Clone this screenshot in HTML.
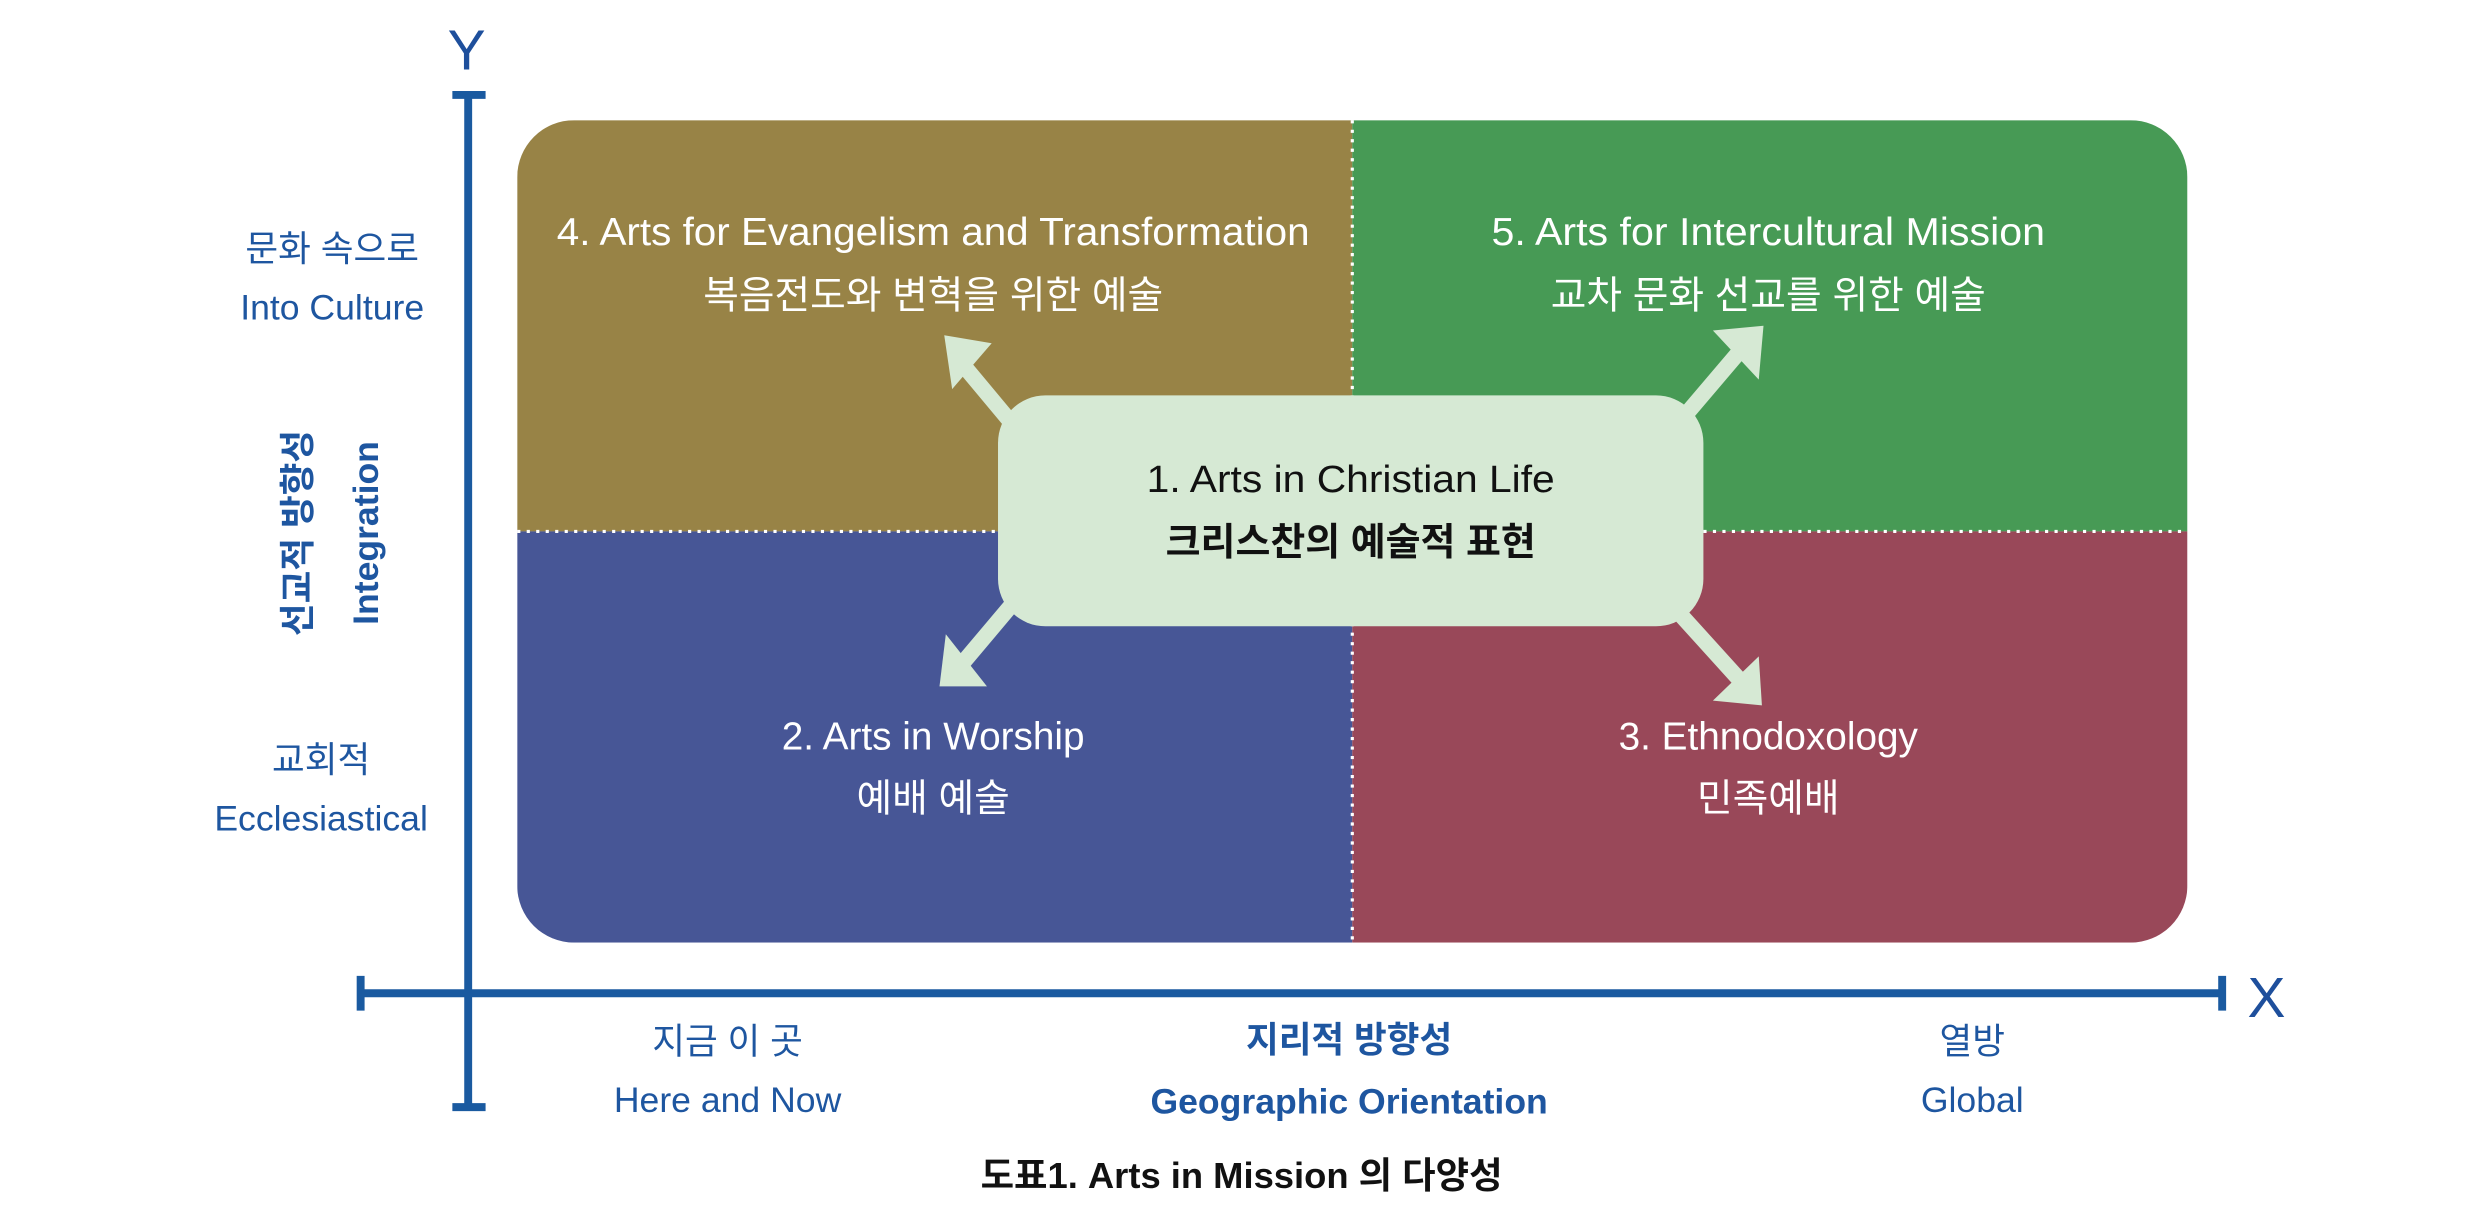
<!DOCTYPE html>
<html><head><meta charset="utf-8"><style>
html,body{margin:0;padding:0;background:#fff;}
svg{display:block;}
text{font-family:"Liberation Sans","Noto Sans CJK KR",sans-serif;}
.w{fill:#fff;font-size:24.5px;}
.b{fill:#1e56a0;font-size:22.5px;}
</style></head><body>
<svg width="2480" height="1230" viewBox="0 0 1568 777.7" xmlns="http://www.w3.org/2000/svg">
<defs><clipPath id="c"><rect x="327" y="76" width="1056" height="520" rx="36"/></clipPath></defs>
<g clip-path="url(#c)">
<rect x="327" y="76" width="528" height="260" fill="#988346"/>
<rect x="855" y="76" width="528" height="260" fill="#479a55"/>
<rect x="327" y="336" width="528" height="260" fill="#475696"/>
<rect x="855" y="336" width="528" height="260" fill="#994859"/>
</g>
<line x1="855" y1="76" x2="855" y2="596" stroke="#fff" stroke-width="2" stroke-dasharray="2 4"/>
<line x1="327" y1="336" x2="1383" y2="336" stroke="#fff" stroke-width="2" stroke-dasharray="2 4"/>
<g stroke="#d6e9d4" stroke-width="10">
<line x1="640" y1="268" x2="610" y2="232"/>
<line x1="1066" y1="262" x2="1100" y2="222"/>
<line x1="640" y1="382" x2="608" y2="420"/>
<line x1="1062" y1="388" x2="1100" y2="430"/>
</g>
<g fill="#d6e9d4">
<polygon points="597,212 627,217 602,246"/>
<polygon points="1115,206 1083,209 1112,240"/>
<polygon points="594,434 624,434 598,401"/>
<polygon points="1114,446 1112,415 1083,443"/>
</g>
<rect x="631" y="250" width="446" height="146" rx="30" fill="#d6e9d4"/>
<g text-anchor="middle">
<text x="590" y="155" class="w" textLength="476" lengthAdjust="spacingAndGlyphs">4. Arts for Evangelism and Transformation</text>
<text x="590" y="195" class="w">복음전도와 변혁을 위한 예술</text>
<text x="1118" y="155" class="w" textLength="350" lengthAdjust="spacingAndGlyphs">5. Arts for Intercultural Mission</text>
<text x="1118" y="195" class="w">교차 문화 선교를 위한 예술</text>
<text x="590" y="474" class="w">2. Arts in Worship</text>
<text x="590" y="513" class="w">예배 예술</text>
<text x="1118" y="474" class="w">3. Ethnodoxology</text>
<text x="1118" y="513" class="w">민족예배</text>
<text x="854" y="311" font-size="24" fill="#111" textLength="258" lengthAdjust="spacingAndGlyphs">1. Arts in Christian Life</text>
<text x="854" y="351" font-size="24" fill="#111" font-weight="bold">크리스찬의 예술적 표현</text>
<text x="210" y="165" class="b">문화 속으로</text>
<text x="210" y="202" class="b">Into Culture</text>
<text x="203" y="488" class="b">교회적</text>
<text x="203" y="525" class="b">Ecclesiastical</text>
<text x="460" y="666" class="b">지금 이 곳</text>
<text x="460" y="703" class="b">Here and Now</text>
<text x="853" y="665" class="b" font-weight="bold">지리적 방향성</text>
<text x="853" y="704" class="b" font-weight="bold">Geographic Orientation</text>
<text x="1247" y="666" class="b">열방</text>
<text x="1247" y="703" class="b">Global</text>
<text x="785" y="751" font-size="23" fill="#111" font-weight="bold">도표1. Arts in Mission 의 다양성</text>
<text transform="translate(196,337) rotate(-90)" class="b" font-weight="bold">선교적 방향성</text>
<text transform="translate(239,337) rotate(-90)" class="b" font-weight="bold">Integration</text>
<text x="295" y="44" font-size="36" fill="#1e4f9c">Y</text>
<text x="1433" y="643" font-size="36" fill="#1e4f9c">X</text>
</g>
<g stroke="#1a5aa0" stroke-width="5">
<line x1="296" y1="60" x2="296" y2="700"/>
<line x1="286" y1="60" x2="307" y2="60"/>
<line x1="286" y1="700" x2="307" y2="700"/>
<line x1="228" y1="628" x2="1405" y2="628"/>
<line x1="228" y1="617" x2="228" y2="639"/>
<line x1="1405" y1="617" x2="1405" y2="639"/>
</g>
</svg>
</body></html>
